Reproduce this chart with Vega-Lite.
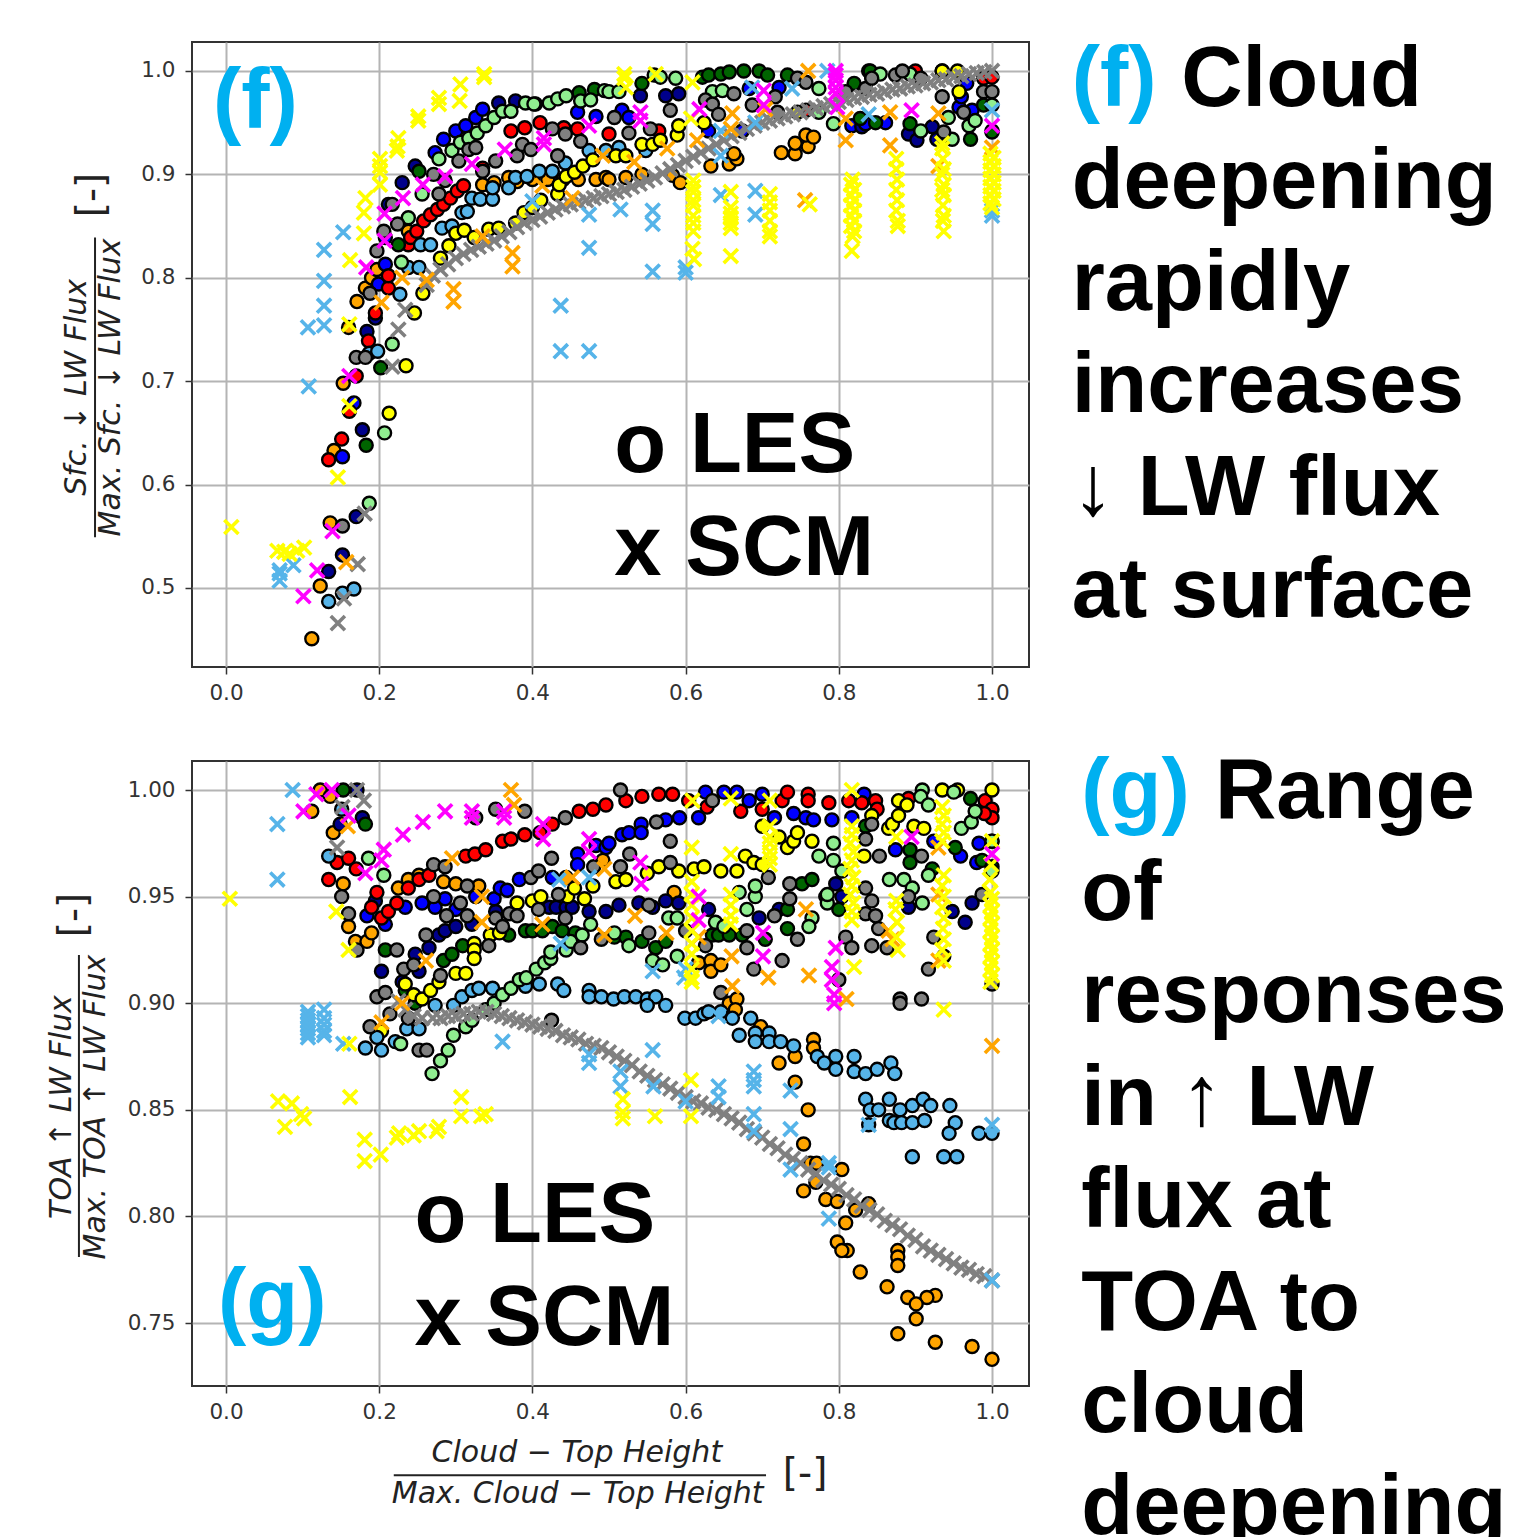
{"$schema":"https://vega.github.io/schema/vega-lite/v6.json","bounds":"flush","spacing":94,"padding":{"left":46,"top":37,"right":2,"bottom":2},"background":"white","config":{"view":{"stroke":"#333333","strokeWidth":2},"axis":{"grid":true,"gridColor":"#b4b4b4","gridWidth":2,"domain":false,"tickColor":"#333333","tickWidth":1.5,"tickSize":7,"labelFont":"DejaVu Sans","labelFontSize":21.5,"labelColor":"#333333","title":null}},
"datasets":{
"fLES":[
{"x":0.112,"y":0.451,"s":"orange"},{"x":0.123,"y":0.502,"s":"orange"},{"x":0.136,"y":0.563,"s":"orange"},{"x":0.141,"y":0.633,"s":"orange"},{"x":0.153,"y":0.698,"s":"orange"},{"x":0.16,"y":0.752,"s":"orange"},{"x":0.171,"y":0.777,"s":"orange"},{"x":0.182,"y":0.79,"s":"orange"},{"x":0.19,"y":0.8,"s":"orange"},{"x":0.197,"y":0.808,"s":"orange"},{"x":0.238,"y":0.845,"s":"orange"},{"x":0.335,"y":0.89,"s":"orange"},{"x":0.35,"y":0.892,"s":"orange"},{"x":0.369,"y":0.897,"s":"orange"},{"x":0.38,"y":0.893,"s":"orange"},{"x":0.4,"y":0.895,"s":"orange"},{"x":0.42,"y":0.895,"s":"orange"},{"x":0.44,"y":0.895,"s":"orange"},{"x":0.46,"y":0.895,"s":"orange"},{"x":0.483,"y":0.895,"s":"orange"},{"x":0.496,"y":0.897,"s":"orange"},{"x":0.5,"y":0.895,"s":"orange"},{"x":0.522,"y":0.897,"s":"orange"},{"x":0.543,"y":0.9,"s":"orange"},{"x":0.583,"y":0.899,"s":"orange"},{"x":0.593,"y":0.892,"s":"orange"},{"x":0.633,"y":0.908,"s":"orange"},{"x":0.657,"y":0.91,"s":"orange"},{"x":0.667,"y":0.915,"s":"orange"},{"x":0.663,"y":0.92,"s":"orange"},{"x":0.725,"y":0.921,"s":"orange"},{"x":0.743,"y":0.92,"s":"orange"},{"x":0.76,"y":0.927,"s":"orange"},{"x":0.743,"y":0.93,"s":"orange"},{"x":0.757,"y":0.938,"s":"orange"},{"x":0.767,"y":0.936,"s":"orange"},
{"x":0.134,"y":0.516,"s":"navy"},{"x":0.152,"y":0.532,"s":"navy"},{"x":0.17,"y":0.569,"s":"navy"},{"x":0.178,"y":0.653,"s":"navy"},{"x":0.152,"y":0.627,"s":"blue"},{"x":0.167,"y":0.679,"s":"blue"},{"x":0.184,"y":0.748,"s":"navy"},{"x":0.195,"y":0.761,"s":"navy"},{"x":0.199,"y":0.794,"s":"blue"},{"x":0.208,"y":0.813,"s":"blue"},{"x":0.208,"y":0.839,"s":"blue"},{"x":0.212,"y":0.871,"s":"navy"},{"x":0.23,"y":0.892,"s":"navy"},{"x":0.247,"y":0.908,"s":"navy"},{"x":0.273,"y":0.921,"s":"blue"},{"x":0.284,"y":0.934,"s":"blue"},{"x":0.3,"y":0.942,"s":"blue"},{"x":0.313,"y":0.947,"s":"blue"},{"x":0.326,"y":0.955,"s":"blue"},{"x":0.335,"y":0.963,"s":"blue"},{"x":0.356,"y":0.969,"s":"navy"},{"x":0.378,"y":0.971,"s":"navy"},{"x":0.404,"y":0.968,"s":"navy"},{"x":0.459,"y":0.96,"s":"blue"},{"x":0.483,"y":0.956,"s":"blue"},{"x":0.517,"y":0.962,"s":"blue"},{"x":0.526,"y":0.955,"s":"blue"},{"x":0.541,"y":0.976,"s":"navy"},{"x":0.574,"y":0.976,"s":"navy"},{"x":0.591,"y":0.978,"s":"navy"},{"x":0.63,"y":0.942,"s":"blue"},{"x":0.674,"y":0.942,"s":"blue"},{"x":0.683,"y":0.983,"s":"blue"},{"x":0.722,"y":0.984,"s":"blue"},{"x":0.817,"y":0.947,"s":"blue"},{"x":0.83,"y":0.946,"s":"navy"},{"x":0.835,"y":0.949,"s":"blue"},{"x":0.861,"y":0.95,"s":"blue"},{"x":0.843,"y":0.994,"s":"navy"},{"x":0.839,"y":1.0,"s":"blue"},{"x":0.891,"y":0.939,"s":"navy"},{"x":0.902,"y":0.933,"s":"navy"},{"x":0.922,"y":0.946,"s":"navy"},{"x":0.928,"y":0.934,"s":"navy"},{"x":0.957,"y":0.965,"s":"blue"},{"x":0.96,"y":0.975,"s":"blue"},{"x":0.967,"y":0.988,"s":"blue"},{"x":0.974,"y":0.962,"s":"blue"},{"x":1.0,"y":0.942,"s":"navy"},
{"x":0.134,"y":0.624,"s":"red"},{"x":0.151,"y":0.644,"s":"red"},{"x":0.161,"y":0.671,"s":"red"},{"x":0.17,"y":0.705,"s":"red"},{"x":0.186,"y":0.739,"s":"red"},{"x":0.195,"y":0.766,"s":"red"},{"x":0.212,"y":0.79,"s":"red"},{"x":0.212,"y":0.802,"s":"red"},{"x":0.238,"y":0.832,"s":"red"},{"x":0.241,"y":0.839,"s":"red"},{"x":0.249,"y":0.845,"s":"red"},{"x":0.258,"y":0.855,"s":"red"},{"x":0.267,"y":0.861,"s":"red"},{"x":0.276,"y":0.866,"s":"red"},{"x":0.284,"y":0.871,"s":"red"},{"x":0.293,"y":0.877,"s":"red"},{"x":0.302,"y":0.884,"s":"red"},{"x":0.31,"y":0.889,"s":"red"},{"x":0.335,"y":0.906,"s":"red"},{"x":0.372,"y":0.942,"s":"red"},{"x":0.39,"y":0.945,"s":"red"},{"x":0.41,"y":0.95,"s":"red"},{"x":0.441,"y":0.945,"s":"red"},{"x":0.459,"y":0.944,"s":"red"},{"x":0.5,"y":0.939,"s":"red"},{"x":0.565,"y":0.942,"s":"red"},{"x":0.757,"y":0.962,"s":"red"},{"x":0.9,"y":1.0,"s":"red"},{"x":0.935,"y":1.0,"s":"red"},{"x":0.989,"y":0.993,"s":"red"},{"x":1.0,"y":0.994,"s":"red"},
{"x":0.183,"y":0.638,"s":"green"},{"x":0.202,"y":0.713,"s":"green"},{"x":0.225,"y":0.832,"s":"green"},{"x":0.252,"y":0.903,"s":"green"},{"x":0.461,"y":0.979,"s":"green"},{"x":0.481,"y":0.982,"s":"green"},{"x":0.543,"y":0.988,"s":"green"},{"x":0.622,"y":0.994,"s":"green"},{"x":0.63,"y":0.996,"s":"green"},{"x":0.646,"y":0.997,"s":"green"},{"x":0.657,"y":0.999,"s":"green"},{"x":0.676,"y":1.0,"s":"green"},{"x":0.696,"y":1.0,"s":"green"},{"x":0.707,"y":0.996,"s":"green"},{"x":0.733,"y":0.996,"s":"green"},{"x":0.82,"y":0.988,"s":"green"},{"x":0.828,"y":0.954,"s":"green"},{"x":0.848,"y":0.95,"s":"green"},{"x":0.841,"y":1.0,"s":"green"},{"x":0.893,"y":0.949,"s":"green"},{"x":0.972,"y":0.934,"s":"green"},{"x":0.989,"y":0.967,"s":"green"},{"x":1.0,"y":0.941,"s":"green"},
{"x":0.134,"y":0.487,"s":"sky"},{"x":0.152,"y":0.495,"s":"sky"},{"x":0.167,"y":0.499,"s":"sky"},{"x":0.187,"y":0.727,"s":"sky"},{"x":0.198,"y":0.729,"s":"sky"},{"x":0.227,"y":0.784,"s":"sky"},{"x":0.238,"y":0.81,"s":"sky"},{"x":0.252,"y":0.81,"s":"sky"},{"x":0.254,"y":0.832,"s":"sky"},{"x":0.267,"y":0.832,"s":"sky"},{"x":0.282,"y":0.848,"s":"sky"},{"x":0.295,"y":0.85,"s":"sky"},{"x":0.308,"y":0.863,"s":"sky"},{"x":0.315,"y":0.864,"s":"sky"},{"x":0.321,"y":0.877,"s":"sky"},{"x":0.332,"y":0.876,"s":"sky"},{"x":0.348,"y":0.876,"s":"sky"},{"x":0.348,"y":0.887,"s":"sky"},{"x":0.369,"y":0.887,"s":"sky"},{"x":0.378,"y":0.897,"s":"sky"},{"x":0.393,"y":0.898,"s":"sky"},{"x":0.409,"y":0.903,"s":"sky"},{"x":0.426,"y":0.903,"s":"sky"},{"x":0.443,"y":0.911,"s":"sky"},{"x":0.474,"y":0.923,"s":"sky"},{"x":0.496,"y":0.923,"s":"sky"},{"x":0.513,"y":0.926,"s":"sky"},{"x":0.548,"y":0.923,"s":"sky"},
{"x":0.187,"y":0.582,"s":"light"},{"x":0.207,"y":0.65,"s":"light"},{"x":0.217,"y":0.736,"s":"light"},{"x":0.229,"y":0.815,"s":"light"},{"x":0.238,"y":0.858,"s":"light"},{"x":0.256,"y":0.881,"s":"light"},{"x":0.278,"y":0.915,"s":"light"},{"x":0.295,"y":0.923,"s":"light"},{"x":0.306,"y":0.931,"s":"light"},{"x":0.317,"y":0.935,"s":"light"},{"x":0.328,"y":0.94,"s":"light"},{"x":0.339,"y":0.947,"s":"light"},{"x":0.35,"y":0.955,"s":"light"},{"x":0.361,"y":0.961,"s":"light"},{"x":0.372,"y":0.961,"s":"light"},{"x":0.391,"y":0.969,"s":"light"},{"x":0.402,"y":0.968,"s":"light"},{"x":0.422,"y":0.969,"s":"light"},{"x":0.433,"y":0.973,"s":"light"},{"x":0.444,"y":0.976,"s":"light"},{"x":0.463,"y":0.971,"s":"light"},{"x":0.476,"y":0.972,"s":"light"},{"x":0.494,"y":0.981,"s":"light"},{"x":0.5,"y":0.98,"s":"light"},{"x":0.513,"y":0.98,"s":"light"},{"x":0.559,"y":0.996,"s":"light"},{"x":0.567,"y":0.994,"s":"light"},{"x":0.587,"y":0.993,"s":"light"},{"x":0.635,"y":0.98,"s":"light"},{"x":0.648,"y":0.981,"s":"light"},{"x":0.774,"y":0.983,"s":"light"},{"x":0.774,"y":0.96,"s":"light"},{"x":0.793,"y":0.949,"s":"light"},{"x":0.854,"y":0.997,"s":"light"},{"x":0.893,"y":0.997,"s":"light"},{"x":0.907,"y":0.942,"s":"light"},{"x":0.943,"y":0.955,"s":"light"},{"x":0.948,"y":0.934,"s":"light"},{"x":0.97,"y":0.947,"s":"light"},{"x":0.978,"y":0.952,"s":"light"},{"x":1.0,"y":0.967,"s":"light"},
{"x":0.213,"y":0.669,"s":"yellow"},{"x":0.235,"y":0.715,"s":"yellow"},{"x":0.246,"y":0.766,"s":"yellow"},{"x":0.257,"y":0.785,"s":"yellow"},{"x":0.28,"y":0.819,"s":"yellow"},{"x":0.291,"y":0.831,"s":"yellow"},{"x":0.3,"y":0.843,"s":"yellow"},{"x":0.311,"y":0.846,"s":"yellow"},{"x":0.324,"y":0.839,"s":"yellow"},{"x":0.343,"y":0.847,"s":"yellow"},{"x":0.356,"y":0.848,"s":"yellow"},{"x":0.378,"y":0.853,"s":"yellow"},{"x":0.389,"y":0.863,"s":"yellow"},{"x":0.4,"y":0.868,"s":"yellow"},{"x":0.411,"y":0.875,"s":"yellow"},{"x":0.433,"y":0.881,"s":"yellow"},{"x":0.435,"y":0.89,"s":"yellow"},{"x":0.444,"y":0.898,"s":"yellow"},{"x":0.455,"y":0.902,"s":"yellow"},{"x":0.466,"y":0.908,"s":"yellow"},{"x":0.479,"y":0.914,"s":"yellow"},{"x":0.509,"y":0.918,"s":"yellow"},{"x":0.522,"y":0.918,"s":"yellow"},{"x":0.543,"y":0.929,"s":"yellow"},{"x":0.557,"y":0.929,"s":"yellow"},{"x":0.567,"y":0.933,"s":"yellow"},{"x":0.589,"y":0.938,"s":"yellow"},{"x":0.591,"y":0.947,"s":"yellow"},{"x":0.624,"y":0.95,"s":"yellow"},{"x":0.746,"y":0.96,"s":"yellow"},{"x":0.935,"y":1.0,"s":"yellow"},{"x":0.955,"y":1.0,"s":"yellow"},{"x":0.957,"y":0.98,"s":"yellow"},
{"x":0.152,"y":0.56,"s":"gray"},{"x":0.17,"y":0.723,"s":"gray"},{"x":0.182,"y":0.723,"s":"gray"},{"x":0.188,"y":0.785,"s":"gray"},{"x":0.197,"y":0.826,"s":"gray"},{"x":0.206,"y":0.845,"s":"gray"},{"x":0.224,"y":0.852,"s":"gray"},{"x":0.217,"y":0.871,"s":"gray"},{"x":0.271,"y":0.9,"s":"gray"},{"x":0.278,"y":0.881,"s":"gray"},{"x":0.286,"y":0.894,"s":"gray"},{"x":0.304,"y":0.913,"s":"gray"},{"x":0.317,"y":0.924,"s":"gray"},{"x":0.326,"y":0.926,"s":"gray"},{"x":0.335,"y":0.903,"s":"gray"},{"x":0.352,"y":0.913,"s":"gray"},{"x":0.38,"y":0.918,"s":"gray"},{"x":0.387,"y":0.929,"s":"gray"},{"x":0.398,"y":0.924,"s":"gray"},{"x":0.426,"y":0.944,"s":"gray"},{"x":0.443,"y":0.939,"s":"gray"},{"x":0.433,"y":0.918,"s":"gray"},{"x":0.463,"y":0.932,"s":"gray"},{"x":0.507,"y":0.955,"s":"gray"},{"x":0.526,"y":0.94,"s":"gray"},{"x":0.554,"y":0.944,"s":"gray"},{"x":0.58,"y":0.962,"s":"gray"},{"x":0.626,"y":0.972,"s":"gray"},{"x":0.635,"y":0.968,"s":"gray"},{"x":0.643,"y":0.958,"s":"gray"},{"x":0.663,"y":0.978,"s":"gray"},{"x":0.687,"y":0.967,"s":"gray"},{"x":0.717,"y":0.975,"s":"gray"},{"x":0.72,"y":0.96,"s":"gray"},{"x":0.746,"y":0.993,"s":"gray"},{"x":0.757,"y":0.989,"s":"gray"},{"x":0.809,"y":0.98,"s":"gray"},{"x":0.835,"y":0.983,"s":"gray"},{"x":0.843,"y":0.993,"s":"gray"},{"x":0.874,"y":0.996,"s":"gray"},{"x":0.883,"y":1.0,"s":"gray"},{"x":0.907,"y":0.993,"s":"gray"},{"x":0.935,"y":0.975,"s":"gray"},{"x":0.937,"y":0.941,"s":"gray"},{"x":0.963,"y":0.96,"s":"gray"},{"x":0.989,"y":0.98,"s":"gray"},{"x":1.0,"y":0.98,"s":"gray"}
],
"fSCM":[
{"x":0.146,"y":0.466,"s":"gray"},{"x":0.154,"y":0.49,"s":"gray"},{"x":0.172,"y":0.523,"s":"gray"},{"x":0.181,"y":0.572,"s":"gray"},{"x":0.217,"y":0.714,"s":"gray"},{"x":0.225,"y":0.75,"s":"gray"},{"x":0.234,"y":0.769,"s":"gray"},{"x":0.262,"y":0.793,"s":"gray"},{"x":0.27,"y":0.802,"s":"gray"},{"x":0.28,"y":0.808,"s":"gray"},{"x":0.29,"y":0.813,"s":"gray"},{"x":0.3,"y":0.819,"s":"gray"},{"x":0.31,"y":0.823,"s":"gray"},{"x":0.32,"y":0.827,"s":"gray"},{"x":0.33,"y":0.83,"s":"gray"},{"x":0.34,"y":0.833,"s":"gray"},{"x":0.35,"y":0.836,"s":"gray"},{"x":0.36,"y":0.84,"s":"gray"},{"x":0.37,"y":0.844,"s":"gray"},{"x":0.38,"y":0.849,"s":"gray"},{"x":0.39,"y":0.853,"s":"gray"},{"x":0.4,"y":0.856,"s":"gray"},{"x":0.41,"y":0.859,"s":"gray"},{"x":0.42,"y":0.863,"s":"gray"},{"x":0.43,"y":0.866,"s":"gray"},{"x":0.44,"y":0.869,"s":"gray"},{"x":0.45,"y":0.871,"s":"gray"},{"x":0.46,"y":0.873,"s":"gray"},{"x":0.47,"y":0.875,"s":"gray"},{"x":0.48,"y":0.877,"s":"gray"},{"x":0.49,"y":0.879,"s":"gray"},{"x":0.5,"y":0.881,"s":"gray"},{"x":0.51,"y":0.883,"s":"gray"},{"x":0.52,"y":0.885,"s":"gray"},{"x":0.53,"y":0.888,"s":"gray"},{"x":0.54,"y":0.891,"s":"gray"},{"x":0.55,"y":0.894,"s":"gray"},{"x":0.56,"y":0.897,"s":"gray"},{"x":0.57,"y":0.901,"s":"gray"},{"x":0.58,"y":0.905,"s":"gray"},{"x":0.59,"y":0.909,"s":"gray"},{"x":0.6,"y":0.913,"s":"gray"},{"x":0.61,"y":0.917,"s":"gray"},{"x":0.62,"y":0.921,"s":"gray"},{"x":0.63,"y":0.925,"s":"gray"},{"x":0.64,"y":0.929,"s":"gray"},{"x":0.65,"y":0.933,"s":"gray"},{"x":0.66,"y":0.937,"s":"gray"},{"x":0.67,"y":0.94,"s":"gray"},{"x":0.68,"y":0.944,"s":"gray"},{"x":0.69,"y":0.947,"s":"gray"},{"x":0.7,"y":0.95,"s":"gray"},{"x":0.71,"y":0.952,"s":"gray"},{"x":0.72,"y":0.954,"s":"gray"},{"x":0.73,"y":0.956,"s":"gray"},{"x":0.74,"y":0.958,"s":"gray"},{"x":0.75,"y":0.96,"s":"gray"},{"x":0.76,"y":0.962,"s":"gray"},{"x":0.77,"y":0.964,"s":"gray"},{"x":0.78,"y":0.966,"s":"gray"},{"x":0.79,"y":0.968,"s":"gray"},{"x":0.8,"y":0.97,"s":"gray"},{"x":0.81,"y":0.972,"s":"gray"},{"x":0.82,"y":0.974,"s":"gray"},{"x":0.83,"y":0.975,"s":"gray"},{"x":0.84,"y":0.977,"s":"gray"},{"x":0.85,"y":0.978,"s":"gray"},{"x":0.86,"y":0.98,"s":"gray"},{"x":0.87,"y":0.982,"s":"gray"},{"x":0.88,"y":0.983,"s":"gray"},{"x":0.89,"y":0.985,"s":"gray"},{"x":0.9,"y":0.986,"s":"gray"},{"x":0.91,"y":0.988,"s":"gray"},{"x":0.92,"y":0.989,"s":"gray"},{"x":0.93,"y":0.991,"s":"gray"},{"x":0.94,"y":0.992,"s":"gray"},{"x":0.95,"y":0.994,"s":"gray"},{"x":0.96,"y":0.995,"s":"gray"},{"x":0.97,"y":0.997,"s":"gray"},{"x":0.98,"y":0.998,"s":"gray"},{"x":0.99,"y":0.999,"s":"gray"},{"x":1.0,"y":1.0,"s":"gray"},
{"x":0.07,"y":0.507,"s":"sky"},{"x":0.07,"y":0.514,"s":"sky"},{"x":0.07,"y":0.517,"s":"sky"},{"x":0.088,"y":0.522,"s":"sky"},{"x":0.108,"y":0.695,"s":"sky"},{"x":0.107,"y":0.752,"s":"sky"},{"x":0.128,"y":0.754,"s":"sky"},{"x":0.128,"y":0.773,"s":"sky"},{"x":0.128,"y":0.797,"s":"sky"},{"x":0.128,"y":0.827,"s":"sky"},{"x":0.153,"y":0.844,"s":"sky"},{"x":0.4,"y":0.874,"s":"sky"},{"x":0.437,"y":0.773,"s":"sky"},{"x":0.437,"y":0.729,"s":"sky"},{"x":0.474,"y":0.729,"s":"sky"},{"x":0.474,"y":0.829,"s":"sky"},{"x":0.474,"y":0.861,"s":"sky"},{"x":0.515,"y":0.866,"s":"sky"},{"x":0.557,"y":0.865,"s":"sky"},{"x":0.557,"y":0.852,"s":"sky"},{"x":0.557,"y":0.806,"s":"sky"},{"x":0.6,"y":0.81,"s":"sky"},{"x":0.6,"y":0.805,"s":"sky"},{"x":0.646,"y":0.88,"s":"sky"},{"x":0.691,"y":0.884,"s":"sky"},{"x":0.691,"y":0.861,"s":"sky"},{"x":0.646,"y":0.918,"s":"sky"},{"x":0.646,"y":0.942,"s":"sky"},{"x":0.691,"y":0.95,"s":"sky"},{"x":0.687,"y":0.984,"s":"sky"},{"x":0.739,"y":0.983,"s":"sky"},{"x":0.785,"y":1.0,"s":"sky"},{"x":0.839,"y":0.958,"s":"sky"},{"x":1.0,"y":0.962,"s":"sky"},{"x":1.0,"y":0.865,"s":"sky"},{"x":1.0,"y":0.86,"s":"sky"},
{"x":0.157,"y":0.525,"s":"orange"},{"x":0.203,"y":0.776,"s":"orange"},{"x":0.23,"y":0.8,"s":"orange"},{"x":0.262,"y":0.798,"s":"orange"},{"x":0.297,"y":0.789,"s":"orange"},{"x":0.297,"y":0.777,"s":"orange"},{"x":0.335,"y":0.84,"s":"orange"},{"x":0.374,"y":0.824,"s":"orange"},{"x":0.374,"y":0.811,"s":"orange"},{"x":0.413,"y":0.889,"s":"orange"},{"x":0.452,"y":0.877,"s":"orange"},{"x":0.492,"y":0.918,"s":"orange"},{"x":0.533,"y":0.912,"s":"orange"},{"x":0.576,"y":0.925,"s":"orange"},{"x":0.615,"y":0.933,"s":"orange"},{"x":0.659,"y":0.944,"s":"orange"},{"x":0.661,"y":0.959,"s":"orange"},{"x":0.704,"y":0.963,"s":"orange"},{"x":0.756,"y":0.875,"s":"orange"},{"x":0.76,"y":1.0,"s":"orange"},{"x":0.809,"y":0.954,"s":"orange"},{"x":0.809,"y":0.933,"s":"orange"},{"x":0.867,"y":0.96,"s":"orange"},{"x":0.867,"y":0.928,"s":"orange"},{"x":0.93,"y":0.959,"s":"orange"},{"x":0.93,"y":0.908,"s":"orange"},{"x":1.0,"y":0.926,"s":"orange"},
{"x":0.007,"y":0.559,"s":"yellow"},{"x":0.067,"y":0.536,"s":"yellow"},{"x":0.076,"y":0.535,"s":"yellow"},{"x":0.083,"y":0.533,"s":"yellow"},{"x":0.093,"y":0.536,"s":"yellow"},{"x":0.102,"y":0.539,"s":"yellow"},{"x":0.146,"y":0.607,"s":"yellow"},{"x":0.161,"y":0.676,"s":"yellow"},{"x":0.161,"y":0.755,"s":"yellow"},{"x":0.162,"y":0.817,"s":"yellow"},{"x":0.18,"y":0.843,"s":"yellow"},{"x":0.18,"y":0.863,"s":"yellow"},{"x":0.182,"y":0.877,"s":"yellow"},{"x":0.201,"y":0.89,"s":"yellow"},{"x":0.201,"y":0.902,"s":"yellow"},{"x":0.201,"y":0.908,"s":"yellow"},{"x":0.201,"y":0.915,"s":"yellow"},{"x":0.223,"y":0.923,"s":"yellow"},{"x":0.224,"y":0.927,"s":"yellow"},{"x":0.225,"y":0.935,"s":"yellow"},{"x":0.251,"y":0.952,"s":"yellow"},{"x":0.251,"y":0.956,"s":"yellow"},{"x":0.278,"y":0.968,"s":"yellow"},{"x":0.278,"y":0.974,"s":"yellow"},{"x":0.305,"y":0.971,"s":"yellow"},{"x":0.306,"y":0.987,"s":"yellow"},{"x":0.337,"y":0.994,"s":"yellow"},{"x":0.337,"y":0.997,"s":"yellow"},{"x":0.52,"y":0.997,"s":"yellow"},{"x":0.52,"y":0.993,"s":"yellow"},{"x":0.522,"y":0.984,"s":"yellow"},{"x":0.561,"y":0.997,"s":"yellow"},{"x":0.609,"y":0.989,"s":"yellow"},{"x":0.607,"y":0.954,"s":"yellow"},
{"x":0.61,"y":0.894,"s":"yellow"},{"x":0.61,"y":0.888,"s":"yellow"},{"x":0.61,"y":0.883,"s":"yellow"},{"x":0.61,"y":0.875,"s":"yellow"},{"x":0.61,"y":0.87,"s":"yellow"},{"x":0.61,"y":0.86,"s":"yellow"},{"x":0.61,"y":0.853,"s":"yellow"},{"x":0.61,"y":0.845,"s":"yellow"},{"x":0.609,"y":0.828,"s":"yellow"},{"x":0.611,"y":0.818,"s":"yellow"},{"x":0.659,"y":0.883,"s":"yellow"},{"x":0.659,"y":0.868,"s":"yellow"},{"x":0.659,"y":0.862,"s":"yellow"},{"x":0.659,"y":0.858,"s":"yellow"},{"x":0.659,"y":0.853,"s":"yellow"},{"x":0.659,"y":0.848,"s":"yellow"},{"x":0.659,"y":0.821,"s":"yellow"},{"x":0.71,"y":0.881,"s":"yellow"},{"x":0.71,"y":0.873,"s":"yellow"},{"x":0.71,"y":0.865,"s":"yellow"},{"x":0.71,"y":0.855,"s":"yellow"},{"x":0.71,"y":0.845,"s":"yellow"},{"x":0.71,"y":0.84,"s":"yellow"},{"x":0.762,"y":0.871,"s":"yellow"},
{"x":0.818,"y":0.895,"s":"yellow"},{"x":0.816,"y":0.89,"s":"yellow"},{"x":0.82,"y":0.885,"s":"yellow"},{"x":0.816,"y":0.88,"s":"yellow"},{"x":0.82,"y":0.875,"s":"yellow"},{"x":0.816,"y":0.87,"s":"yellow"},{"x":0.82,"y":0.865,"s":"yellow"},{"x":0.816,"y":0.86,"s":"yellow"},{"x":0.82,"y":0.855,"s":"yellow"},{"x":0.816,"y":0.85,"s":"yellow"},{"x":0.82,"y":0.845,"s":"yellow"},{"x":0.818,"y":0.84,"s":"yellow"},{"x":0.817,"y":0.826,"s":"yellow"},
{"x":0.875,"y":0.915,"s":"yellow"},{"x":0.875,"y":0.905,"s":"yellow"},{"x":0.876,"y":0.895,"s":"yellow"},{"x":0.875,"y":0.885,"s":"yellow"},{"x":0.876,"y":0.875,"s":"yellow"},{"x":0.875,"y":0.865,"s":"yellow"},{"x":0.877,"y":0.855,"s":"yellow"},{"x":0.877,"y":0.85,"s":"yellow"},
{"x":0.935,"y":0.93,"s":"yellow"},{"x":0.935,"y":0.925,"s":"yellow"},{"x":0.936,"y":0.915,"s":"yellow"},{"x":0.937,"y":0.905,"s":"yellow"},{"x":0.935,"y":0.9,"s":"yellow"},{"x":0.937,"y":0.89,"s":"yellow"},{"x":0.935,"y":0.885,"s":"yellow"},{"x":0.937,"y":0.88,"s":"yellow"},{"x":0.936,"y":0.87,"s":"yellow"},{"x":0.937,"y":0.86,"s":"yellow"},{"x":0.936,"y":0.855,"s":"yellow"},{"x":0.937,"y":0.845,"s":"yellow"},
{"x":0.998,"y":0.92,"s":"yellow"},{"x":1.002,"y":0.916,"s":"yellow"},{"x":0.998,"y":0.912,"s":"yellow"},{"x":1.002,"y":0.908,"s":"yellow"},{"x":0.998,"y":0.904,"s":"yellow"},{"x":1.002,"y":0.9,"s":"yellow"},{"x":0.998,"y":0.896,"s":"yellow"},{"x":1.002,"y":0.892,"s":"yellow"},{"x":0.998,"y":0.888,"s":"yellow"},{"x":1.002,"y":0.884,"s":"yellow"},{"x":0.998,"y":0.88,"s":"yellow"},{"x":1.002,"y":0.876,"s":"yellow"},{"x":0.998,"y":0.872,"s":"yellow"},{"x":1.0,"y":0.868,"s":"yellow"},
{"x":0.101,"y":0.492,"s":"magenta"},{"x":0.119,"y":0.517,"s":"magenta"},{"x":0.139,"y":0.555,"s":"magenta"},{"x":0.161,"y":0.705,"s":"magenta"},{"x":0.183,"y":0.81,"s":"magenta"},{"x":0.207,"y":0.836,"s":"magenta"},{"x":0.207,"y":0.862,"s":"magenta"},{"x":0.231,"y":0.877,"s":"magenta"},{"x":0.257,"y":0.89,"s":"magenta"},{"x":0.286,"y":0.898,"s":"magenta"},{"x":0.321,"y":0.91,"s":"magenta"},{"x":0.364,"y":0.924,"s":"magenta"},{"x":0.415,"y":0.935,"s":"magenta"},{"x":0.415,"y":0.929,"s":"magenta"},{"x":0.474,"y":0.947,"s":"magenta"},{"x":0.541,"y":0.96,"s":"magenta"},{"x":0.541,"y":0.952,"s":"magenta"},{"x":0.618,"y":0.963,"s":"magenta"},{"x":0.702,"y":0.981,"s":"magenta"},{"x":0.702,"y":0.967,"s":"magenta"},{"x":0.796,"y":1.0,"s":"magenta"},{"x":0.796,"y":0.996,"s":"magenta"},{"x":0.796,"y":0.991,"s":"magenta"},{"x":0.796,"y":0.984,"s":"magenta"},{"x":0.796,"y":0.978,"s":"magenta"},{"x":0.798,"y":0.965,"s":"magenta"},{"x":0.895,"y":0.962,"s":"magenta"},{"x":1.0,"y":0.947,"s":"magenta"}
],
"gLES":[
{"x":0.123,"y":1.0,"s":"orange"},{"x":0.136,"y":0.997,"s":"orange"},{"x":0.112,"y":0.99,"s":"orange"},{"x":0.14,"y":0.98,"s":"orange"},{"x":0.153,"y":0.956,"s":"orange"},{"x":0.16,"y":0.936,"s":"orange"},{"x":0.169,"y":0.929,"s":"orange"},{"x":0.184,"y":0.929,"s":"orange"},{"x":0.19,"y":0.933,"s":"orange"},{"x":0.225,"y":0.954,"s":"orange"},{"x":0.238,"y":0.958,"s":"orange"},{"x":0.252,"y":0.96,"s":"orange"},{"x":0.284,"y":0.957,"s":"orange"},{"x":0.3,"y":0.956,"s":"orange"},{"x":0.33,"y":0.955,"s":"orange"},{"x":0.444,"y":0.959,"s":"orange"},{"x":0.492,"y":0.967,"s":"orange"},{"x":0.585,"y":0.952,"s":"orange"},{"x":0.617,"y":0.919,"s":"orange"},{"x":0.633,"y":0.92,"s":"orange"},{"x":0.633,"y":0.915,"s":"orange"},{"x":0.646,"y":0.918,"s":"orange"},{"x":0.657,"y":0.9,"s":"orange"},{"x":0.667,"y":0.902,"s":"orange"},{"x":0.665,"y":0.897,"s":"orange"},{"x":0.698,"y":0.889,"s":"orange"},{"x":0.722,"y":0.872,"s":"orange"},{"x":0.743,"y":0.875,"s":"orange"},{"x":0.767,"y":0.883,"s":"orange"},{"x":0.767,"y":0.879,"s":"orange"},{"x":0.743,"y":0.863,"s":"orange"},{"x":0.76,"y":0.85,"s":"orange"},{"x":0.754,"y":0.834,"s":"orange"},{"x":0.763,"y":0.825,"s":"orange"},{"x":0.771,"y":0.825,"s":"orange"},{"x":0.77,"y":0.816,"s":"orange"},{"x":0.804,"y":0.822,"s":"orange"},{"x":0.754,"y":0.812,"s":"orange"},{"x":0.783,"y":0.808,"s":"orange"},{"x":0.798,"y":0.807,"s":"orange"},{"x":0.822,"y":0.803,"s":"orange"},{"x":0.839,"y":0.806,"s":"orange"},{"x":0.809,"y":0.797,"s":"orange"},{"x":0.798,"y":0.788,"s":"orange"},{"x":0.811,"y":0.784,"s":"orange"},{"x":0.804,"y":0.784,"s":"orange"},{"x":0.828,"y":0.774,"s":"orange"},{"x":0.863,"y":0.767,"s":"orange"},{"x":0.877,"y":0.784,"s":"orange"},{"x":0.877,"y":0.781,"s":"orange"},{"x":0.877,"y":0.777,"s":"orange"},{"x":0.89,"y":0.762,"s":"orange"},{"x":0.926,"y":0.763,"s":"orange"},{"x":0.915,"y":0.762,"s":"orange"},{"x":0.901,"y":0.759,"s":"orange"},{"x":0.901,"y":0.752,"s":"orange"},{"x":0.877,"y":0.745,"s":"orange"},{"x":0.926,"y":0.741,"s":"orange"},{"x":0.974,"y":0.739,"s":"orange"},{"x":1.0,"y":0.733,"s":"orange"},
{"x":0.171,"y":1.0,"s":"navy"},{"x":0.178,"y":0.987,"s":"navy"},{"x":0.149,"y":0.984,"s":"navy"},{"x":0.195,"y":0.948,"s":"navy"},{"x":0.203,"y":0.915,"s":"navy"},{"x":0.23,"y":0.91,"s":"navy"},{"x":0.252,"y":0.915,"s":"navy"},{"x":0.247,"y":0.923,"s":"navy"},{"x":0.265,"y":0.926,"s":"navy"},{"x":0.278,"y":0.932,"s":"navy"},{"x":0.286,"y":0.934,"s":"navy"},{"x":0.3,"y":0.936,"s":"navy"},{"x":0.321,"y":0.937,"s":"navy"},{"x":0.352,"y":0.943,"s":"navy"},{"x":0.422,"y":0.945,"s":"navy"},{"x":0.431,"y":0.945,"s":"navy"},{"x":0.444,"y":0.945,"s":"navy"},{"x":0.452,"y":0.945,"s":"navy"},{"x":0.474,"y":0.943,"s":"navy"},{"x":0.496,"y":0.943,"s":"navy"},{"x":0.513,"y":0.946,"s":"navy"},{"x":0.539,"y":0.947,"s":"navy"},{"x":0.557,"y":0.945,"s":"navy"},{"x":0.574,"y":0.948,"s":"navy"},{"x":0.591,"y":0.947,"s":"navy"},{"x":0.63,"y":0.944,"s":"navy"},{"x":0.696,"y":0.94,"s":"navy"},{"x":0.722,"y":0.944,"s":"navy"},{"x":0.796,"y":0.956,"s":"navy"},{"x":0.804,"y":0.95,"s":"navy"},{"x":0.891,"y":0.945,"s":"navy"},{"x":0.948,"y":0.943,"s":"navy"},{"x":0.965,"y":0.938,"s":"navy"},{"x":0.974,"y":0.947,"s":"navy"},
{"x":0.208,"y":0.937,"s":"blue"},{"x":0.184,"y":0.941,"s":"blue"},{"x":0.234,"y":0.945,"s":"blue"},{"x":0.256,"y":0.947,"s":"blue"},{"x":0.273,"y":0.945,"s":"blue"},{"x":0.286,"y":0.949,"s":"blue"},{"x":0.3,"y":0.944,"s":"blue"},{"x":0.326,"y":0.95,"s":"blue"},{"x":0.35,"y":0.949,"s":"blue"},{"x":0.358,"y":0.954,"s":"blue"},{"x":0.367,"y":0.953,"s":"blue"},{"x":0.383,"y":0.958,"s":"blue"},{"x":0.426,"y":0.959,"s":"blue"},{"x":0.459,"y":0.97,"s":"blue"},{"x":0.459,"y":0.965,"s":"blue"},{"x":0.483,"y":0.974,"s":"blue"},{"x":0.496,"y":0.973,"s":"blue"},{"x":0.5,"y":0.975,"s":"blue"},{"x":0.517,"y":0.979,"s":"blue"},{"x":0.526,"y":0.98,"s":"blue"},{"x":0.542,"y":0.984,"s":"blue"},{"x":0.542,"y":0.98,"s":"blue"},{"x":0.574,"y":0.986,"s":"blue"},{"x":0.592,"y":0.987,"s":"blue"},{"x":0.617,"y":0.987,"s":"blue"},{"x":0.626,"y":0.999,"s":"blue"},{"x":0.65,"y":0.999,"s":"blue"},{"x":0.667,"y":0.999,"s":"blue"},{"x":0.683,"y":0.995,"s":"blue"},{"x":0.7,"y":0.998,"s":"blue"},{"x":0.716,"y":0.987,"s":"blue"},{"x":0.741,"y":0.989,"s":"blue"},{"x":0.757,"y":0.987,"s":"blue"},{"x":0.767,"y":0.986,"s":"blue"},{"x":0.791,"y":0.986,"s":"blue"},{"x":0.817,"y":0.987,"s":"blue"},{"x":0.833,"y":0.998,"s":"blue"},{"x":0.874,"y":0.972,"s":"blue"},{"x":0.924,"y":0.976,"s":"blue"},{"x":0.959,"y":0.969,"s":"blue"},{"x":0.98,"y":0.966,"s":"blue"},{"x":0.983,"y":0.975,"s":"blue"},
{"x":0.134,"y":0.958,"s":"red"},{"x":0.145,"y":0.966,"s":"red"},{"x":0.16,"y":0.968,"s":"red"},{"x":0.17,"y":0.963,"s":"red"},{"x":0.197,"y":0.952,"s":"red"},{"x":0.19,"y":0.945,"s":"red"},{"x":0.203,"y":0.94,"s":"red"},{"x":0.212,"y":0.943,"s":"red"},{"x":0.223,"y":0.947,"s":"red"},{"x":0.238,"y":0.954,"s":"red"},{"x":0.252,"y":0.958,"s":"red"},{"x":0.265,"y":0.96,"s":"red"},{"x":0.313,"y":0.969,"s":"red"},{"x":0.325,"y":0.97,"s":"red"},{"x":0.339,"y":0.972,"s":"red"},{"x":0.361,"y":0.976,"s":"red"},{"x":0.372,"y":0.977,"s":"red"},{"x":0.39,"y":0.979,"s":"red"},{"x":0.41,"y":0.98,"s":"red"},{"x":0.426,"y":0.984,"s":"red"},{"x":0.461,"y":0.99,"s":"red"},{"x":0.479,"y":0.991,"s":"red"},{"x":0.496,"y":0.993,"s":"red"},{"x":0.522,"y":0.995,"s":"red"},{"x":0.543,"y":0.997,"s":"red"},{"x":0.565,"y":0.998,"s":"red"},{"x":0.583,"y":0.998,"s":"red"},{"x":0.604,"y":0.995,"s":"red"},{"x":0.628,"y":0.992,"s":"red"},{"x":0.672,"y":0.99,"s":"red"},{"x":0.7,"y":0.991,"s":"red"},{"x":0.726,"y":0.995,"s":"red"},{"x":0.733,"y":0.999,"s":"red"},{"x":0.76,"y":0.998,"s":"red"},{"x":0.76,"y":0.995,"s":"red"},{"x":0.787,"y":0.994,"s":"red"},{"x":0.813,"y":0.995,"s":"red"},{"x":0.83,"y":0.994,"s":"red"},{"x":0.848,"y":0.995,"s":"red"},{"x":0.85,"y":0.991,"s":"red"},{"x":0.891,"y":0.996,"s":"red"},{"x":0.991,"y":0.995,"s":"red"},{"x":1.0,"y":0.991,"s":"red"},{"x":1.0,"y":0.987,"s":"red"},{"x":0.99,"y":0.989,"s":"red"},
{"x":0.153,"y":1.0,"s":"green"},{"x":0.182,"y":0.984,"s":"green"},{"x":0.208,"y":0.925,"s":"green"},{"x":0.234,"y":0.906,"s":"green"},{"x":0.247,"y":0.9,"s":"green"},{"x":0.284,"y":0.92,"s":"green"},{"x":0.295,"y":0.923,"s":"green"},{"x":0.309,"y":0.927,"s":"green"},{"x":0.369,"y":0.932,"s":"green"},{"x":0.391,"y":0.934,"s":"green"},{"x":0.4,"y":0.934,"s":"green"},{"x":0.413,"y":0.934,"s":"green"},{"x":0.426,"y":0.936,"s":"green"},{"x":0.439,"y":0.934,"s":"green"},{"x":0.456,"y":0.933,"s":"green"},{"x":0.507,"y":0.931,"s":"green"},{"x":0.522,"y":0.931,"s":"green"},{"x":0.543,"y":0.929,"s":"green"},{"x":0.561,"y":0.926,"s":"green"},{"x":0.574,"y":0.929,"s":"green"},{"x":0.635,"y":0.932,"s":"green"},{"x":0.643,"y":0.932,"s":"green"},{"x":0.657,"y":0.932,"s":"green"},{"x":0.674,"y":0.932,"s":"green"},{"x":0.704,"y":0.93,"s":"green"},{"x":0.733,"y":0.944,"s":"green"},{"x":0.733,"y":0.935,"s":"green"},{"x":0.752,"y":0.956,"s":"green"},{"x":0.765,"y":0.958,"s":"green"},{"x":0.783,"y":0.95,"s":"green"},{"x":0.8,"y":0.944,"s":"green"},{"x":0.835,"y":0.983,"s":"green"},{"x":0.893,"y":0.972,"s":"green"},{"x":0.893,"y":0.966,"s":"green"},{"x":0.922,"y":0.963,"s":"green"},{"x":0.952,"y":0.973,"s":"green"},{"x":0.972,"y":0.996,"s":"green"},{"x":0.987,"y":0.967,"s":"green"},{"x":1.0,"y":0.964,"s":"green"},
{"x":0.234,"y":0.909,"s":"yellow"},{"x":0.245,"y":0.904,"s":"yellow"},{"x":0.256,"y":0.902,"s":"yellow"},{"x":0.267,"y":0.906,"s":"yellow"},{"x":0.278,"y":0.91,"s":"yellow"},{"x":0.3,"y":0.914,"s":"yellow"},{"x":0.313,"y":0.914,"s":"yellow"},{"x":0.324,"y":0.928,"s":"yellow"},{"x":0.324,"y":0.925,"s":"yellow"},{"x":0.324,"y":0.921,"s":"yellow"},{"x":0.203,"y":0.887,"s":"yellow"},{"x":0.345,"y":0.932,"s":"yellow"},{"x":0.357,"y":0.933,"s":"yellow"},{"x":0.38,"y":0.947,"s":"yellow"},{"x":0.4,"y":0.948,"s":"yellow"},{"x":0.411,"y":0.95,"s":"yellow"},{"x":0.446,"y":0.95,"s":"yellow"},{"x":0.455,"y":0.954,"s":"yellow"},{"x":0.468,"y":0.949,"s":"yellow"},{"x":0.479,"y":0.955,"s":"yellow"},{"x":0.509,"y":0.957,"s":"yellow"},{"x":0.522,"y":0.958,"s":"yellow"},{"x":0.55,"y":0.961,"s":"yellow"},{"x":0.565,"y":0.964,"s":"yellow"},{"x":0.591,"y":0.962,"s":"yellow"},{"x":0.611,"y":0.963,"s":"yellow"},{"x":0.624,"y":0.964,"s":"yellow"},{"x":0.646,"y":0.962,"s":"yellow"},{"x":0.667,"y":0.962,"s":"yellow"},{"x":0.678,"y":0.969,"s":"yellow"},{"x":0.689,"y":0.966,"s":"yellow"},{"x":0.7,"y":0.965,"s":"yellow"},{"x":0.7,"y":0.983,"s":"yellow"},{"x":0.722,"y":0.978,"s":"yellow"},{"x":0.733,"y":0.973,"s":"yellow"},{"x":0.741,"y":0.976,"s":"yellow"},{"x":0.746,"y":0.98,"s":"yellow"},{"x":0.765,"y":0.976,"s":"yellow"},{"x":0.833,"y":0.969,"s":"yellow"},{"x":0.843,"y":0.988,"s":"yellow"},{"x":0.865,"y":0.982,"s":"yellow"},{"x":0.87,"y":0.984,"s":"yellow"},{"x":0.878,"y":0.995,"s":"yellow"},{"x":0.878,"y":0.988,"s":"yellow"},{"x":0.889,"y":0.993,"s":"yellow"},{"x":0.898,"y":0.983,"s":"yellow"},{"x":0.911,"y":0.982,"s":"yellow"},{"x":0.935,"y":1.0,"s":"yellow"},{"x":0.955,"y":1.0,"s":"yellow"},{"x":1.0,"y":1.0,"s":"yellow"},{"x":1.0,"y":0.976,"s":"yellow"},
{"x":0.134,"y":0.969,"s":"sky"},{"x":0.151,"y":0.991,"s":"sky"},{"x":0.182,"y":0.879,"s":"sky"},{"x":0.197,"y":0.884,"s":"sky"},{"x":0.203,"y":0.878,"s":"sky"},{"x":0.221,"y":0.882,"s":"sky"},{"x":0.236,"y":0.888,"s":"sky"},{"x":0.252,"y":0.888,"s":"sky"},{"x":0.273,"y":0.899,"s":"sky"},{"x":0.297,"y":0.899,"s":"sky"},{"x":0.308,"y":0.903,"s":"sky"},{"x":0.321,"y":0.906,"s":"sky"},{"x":0.33,"y":0.907,"s":"sky"},{"x":0.348,"y":0.907,"s":"sky"},{"x":0.391,"y":0.908,"s":"sky"},{"x":0.409,"y":0.909,"s":"sky"},{"x":0.433,"y":0.909,"s":"sky"},{"x":0.441,"y":0.906,"s":"sky"},{"x":0.474,"y":0.906,"s":"sky"},{"x":0.474,"y":0.903,"s":"sky"},{"x":0.49,"y":0.903,"s":"sky"},{"x":0.506,"y":0.902,"s":"sky"},{"x":0.52,"y":0.903,"s":"sky"},{"x":0.535,"y":0.903,"s":"sky"},{"x":0.55,"y":0.902,"s":"sky"},{"x":0.561,"y":0.903,"s":"sky"},{"x":0.55,"y":0.899,"s":"sky"},{"x":0.574,"y":0.899,"s":"sky"},{"x":0.599,"y":0.893,"s":"sky"},{"x":0.613,"y":0.893,"s":"sky"},{"x":0.624,"y":0.895,"s":"sky"},{"x":0.63,"y":0.896,"s":"sky"},{"x":0.646,"y":0.896,"s":"sky"},{"x":0.661,"y":0.893,"s":"sky"},{"x":0.685,"y":0.893,"s":"sky"},{"x":0.67,"y":0.885,"s":"sky"},{"x":0.691,"y":0.886,"s":"sky"},{"x":0.709,"y":0.886,"s":"sky"},{"x":0.691,"y":0.882,"s":"sky"},{"x":0.709,"y":0.882,"s":"sky"},{"x":0.724,"y":0.882,"s":"sky"},{"x":0.741,"y":0.88,"s":"sky"},{"x":0.772,"y":0.875,"s":"sky"},{"x":0.796,"y":0.875,"s":"sky"},{"x":0.781,"y":0.872,"s":"sky"},{"x":0.796,"y":0.869,"s":"sky"},{"x":0.82,"y":0.875,"s":"sky"},{"x":0.82,"y":0.868,"s":"sky"},{"x":0.835,"y":0.867,"s":"sky"},{"x":0.85,"y":0.869,"s":"sky"},{"x":0.868,"y":0.872,"s":"sky"},{"x":0.873,"y":0.867,"s":"sky"},{"x":0.835,"y":0.855,"s":"sky"},{"x":0.841,"y":0.85,"s":"sky"},{"x":0.852,"y":0.85,"s":"sky"},{"x":0.866,"y":0.855,"s":"sky"},{"x":0.88,"y":0.85,"s":"sky"},{"x":0.896,"y":0.852,"s":"sky"},{"x":0.91,"y":0.855,"s":"sky"},{"x":0.92,"y":0.852,"s":"sky"},{"x":0.945,"y":0.852,"s":"sky"},{"x":0.839,"y":0.843,"s":"sky"},{"x":0.866,"y":0.845,"s":"sky"},{"x":0.872,"y":0.844,"s":"sky"},{"x":0.882,"y":0.844,"s":"sky"},{"x":0.896,"y":0.844,"s":"sky"},{"x":0.912,"y":0.845,"s":"sky"},{"x":0.952,"y":0.844,"s":"sky"},{"x":0.944,"y":0.839,"s":"sky"},{"x":0.983,"y":0.839,"s":"sky"},{"x":1.0,"y":0.839,"s":"sky"},{"x":0.896,"y":0.828,"s":"sky"},{"x":0.937,"y":0.828,"s":"sky"},{"x":0.954,"y":0.828,"s":"sky"},
{"x":0.186,"y":0.968,"s":"light"},{"x":0.206,"y":0.96,"s":"light"},{"x":0.228,"y":0.881,"s":"light"},{"x":0.269,"y":0.867,"s":"light"},{"x":0.28,"y":0.873,"s":"light"},{"x":0.29,"y":0.878,"s":"light"},{"x":0.297,"y":0.885,"s":"light"},{"x":0.313,"y":0.889,"s":"light"},{"x":0.321,"y":0.892,"s":"light"},{"x":0.339,"y":0.897,"s":"light"},{"x":0.35,"y":0.9,"s":"light"},{"x":0.361,"y":0.904,"s":"light"},{"x":0.372,"y":0.907,"s":"light"},{"x":0.383,"y":0.911,"s":"light"},{"x":0.392,"y":0.912,"s":"light"},{"x":0.405,"y":0.916,"s":"light"},{"x":0.416,"y":0.919,"s":"light"},{"x":0.424,"y":0.921,"s":"light"},{"x":0.424,"y":0.924,"s":"light"},{"x":0.444,"y":0.925,"s":"light"},{"x":0.45,"y":0.929,"s":"light"},{"x":0.465,"y":0.932,"s":"light"},{"x":0.476,"y":0.937,"s":"light"},{"x":0.507,"y":0.933,"s":"light"},{"x":0.526,"y":0.927,"s":"light"},{"x":0.557,"y":0.92,"s":"light"},{"x":0.57,"y":0.918,"s":"light"},{"x":0.589,"y":0.922,"s":"light"},{"x":0.578,"y":0.94,"s":"light"},{"x":0.589,"y":0.94,"s":"light"},{"x":0.639,"y":0.938,"s":"light"},{"x":0.65,"y":0.936,"s":"light"},{"x":0.67,"y":0.952,"s":"light"},{"x":0.68,"y":0.944,"s":"light"},{"x":0.691,"y":0.95,"s":"light"},{"x":0.691,"y":0.955,"s":"light"},{"x":0.765,"y":0.94,"s":"light"},{"x":0.761,"y":0.936,"s":"light"},{"x":0.774,"y":0.969,"s":"light"},{"x":0.793,"y":0.975,"s":"light"},{"x":0.793,"y":0.967,"s":"light"},{"x":0.804,"y":0.962,"s":"light"},{"x":0.785,"y":0.947,"s":"light"},{"x":0.785,"y":0.951,"s":"light"},{"x":0.866,"y":0.958,"s":"light"},{"x":0.885,"y":0.958,"s":"light"},{"x":0.896,"y":0.954,"s":"light"},{"x":0.909,"y":0.947,"s":"light"},{"x":0.917,"y":0.96,"s":"light"},{"x":0.909,"y":1.0,"s":"light"},{"x":0.907,"y":0.997,"s":"light"},{"x":0.917,"y":0.993,"s":"light"},{"x":0.95,"y":0.999,"s":"light"},{"x":0.96,"y":0.982,"s":"light"},{"x":0.973,"y":0.985,"s":"light"},{"x":0.978,"y":0.99,"s":"light"},{"x":1.0,"y":0.976,"s":"light"},{"x":1.0,"y":0.962,"s":"light"},
{"x":0.151,"y":0.95,"s":"gray"},{"x":0.16,"y":0.942,"s":"gray"},{"x":0.171,"y":0.925,"s":"gray"},{"x":0.197,"y":0.903,"s":"gray"},{"x":0.208,"y":0.905,"s":"gray"},{"x":0.214,"y":0.895,"s":"gray"},{"x":0.188,"y":0.889,"s":"gray"},{"x":0.252,"y":0.878,"s":"gray"},{"x":0.262,"y":0.878,"s":"gray"},{"x":0.223,"y":0.925,"s":"gray"},{"x":0.232,"y":0.916,"s":"gray"},{"x":0.245,"y":0.918,"s":"gray"},{"x":0.28,"y":0.913,"s":"gray"},{"x":0.261,"y":0.932,"s":"gray"},{"x":0.271,"y":0.965,"s":"gray"},{"x":0.286,"y":0.964,"s":"gray"},{"x":0.271,"y":0.95,"s":"gray"},{"x":0.306,"y":0.947,"s":"gray"},{"x":0.288,"y":0.941,"s":"gray"},{"x":0.315,"y":0.941,"s":"gray"},{"x":0.315,"y":0.955,"s":"gray"},{"x":0.343,"y":0.927,"s":"gray"},{"x":0.352,"y":0.94,"s":"gray"},{"x":0.361,"y":0.936,"s":"gray"},{"x":0.37,"y":0.942,"s":"gray"},{"x":0.38,"y":0.941,"s":"gray"},{"x":0.398,"y":0.959,"s":"gray"},{"x":0.408,"y":0.962,"s":"gray"},{"x":0.425,"y":0.968,"s":"gray"},{"x":0.408,"y":0.944,"s":"gray"},{"x":0.434,"y":0.951,"s":"gray"},{"x":0.443,"y":0.94,"s":"gray"},{"x":0.463,"y":0.926,"s":"gray"},{"x":0.352,"y":0.991,"s":"gray"},{"x":0.326,"y":0.987,"s":"gray"},{"x":0.39,"y":0.99,"s":"gray"},{"x":0.443,"y":0.987,"s":"gray"},{"x":0.48,"y":0.964,"s":"gray"},{"x":0.49,"y":0.93,"s":"gray"},{"x":0.238,"y":0.893,"s":"gray"},{"x":0.425,"y":0.892,"s":"gray"},{"x":0.515,"y":1.0,"s":"gray"},{"x":0.515,"y":0.964,"s":"gray"},{"x":0.527,"y":0.97,"s":"gray"},{"x":0.552,"y":0.933,"s":"gray"},{"x":0.552,"y":0.946,"s":"gray"},{"x":0.562,"y":0.985,"s":"gray"},{"x":0.58,"y":0.976,"s":"gray"},{"x":0.58,"y":0.966,"s":"gray"},{"x":0.635,"y":0.995,"s":"gray"},{"x":0.6,"y":0.934,"s":"gray"},{"x":0.626,"y":0.927,"s":"gray"},{"x":0.68,"y":0.934,"s":"gray"},{"x":0.68,"y":0.926,"s":"gray"},{"x":0.708,"y":0.959,"s":"gray"},{"x":0.716,"y":0.941,"s":"gray"},{"x":0.726,"y":0.92,"s":"gray"},{"x":0.689,"y":0.916,"s":"gray"},{"x":0.646,"y":0.905,"s":"gray"},{"x":0.736,"y":0.956,"s":"gray"},{"x":0.736,"y":0.949,"s":"gray"},{"x":0.746,"y":0.93,"s":"gray"},{"x":0.8,"y":0.911,"s":"gray"},{"x":0.809,"y":0.931,"s":"gray"},{"x":0.817,"y":0.926,"s":"gray"},{"x":0.835,"y":0.977,"s":"gray"},{"x":0.843,"y":0.984,"s":"gray"},{"x":0.853,"y":0.969,"s":"gray"},{"x":0.835,"y":0.954,"s":"gray"},{"x":0.843,"y":0.948,"s":"gray"},{"x":0.835,"y":0.942,"s":"gray"},{"x":0.848,"y":0.941,"s":"gray"},{"x":0.843,"y":0.927,"s":"gray"},{"x":0.863,"y":0.926,"s":"gray"},{"x":0.852,"y":0.935,"s":"gray"},{"x":0.891,"y":0.95,"s":"gray"},{"x":0.908,"y":0.969,"s":"gray"},{"x":0.924,"y":0.931,"s":"gray"},{"x":0.937,"y":0.922,"s":"gray"},{"x":0.917,"y":0.916,"s":"gray"},{"x":0.88,"y":0.902,"s":"gray"},{"x":0.88,"y":0.9,"s":"gray"},{"x":0.908,"y":0.902,"s":"gray"},{"x":1.0,"y":0.909,"s":"gray"},{"x":0.987,"y":0.951,"s":"gray"}
],
"gSCM":[
{"x":0.145,"y":0.973,"s":"gray"},{"x":0.152,"y":0.992,"s":"gray"},{"x":0.171,"y":1.0,"s":"gray"},{"x":0.18,"y":0.995,"s":"gray"},{"x":0.225,"y":0.901,"s":"gray"},{"x":0.234,"y":0.897,"s":"gray"},{"x":0.245,"y":0.894,"s":"gray"},{"x":0.256,"y":0.893,"s":"gray"},{"x":0.27,"y":0.893,"s":"gray"},{"x":0.28,"y":0.893,"s":"gray"},{"x":0.29,"y":0.894,"s":"gray"},{"x":0.3,"y":0.894,"s":"gray"},{"x":0.31,"y":0.895,"s":"gray"},{"x":0.32,"y":0.895,"s":"gray"},{"x":0.33,"y":0.896,"s":"gray"},{"x":0.34,"y":0.896,"s":"gray"},{"x":0.35,"y":0.895,"s":"gray"},{"x":0.36,"y":0.894,"s":"gray"},{"x":0.37,"y":0.893,"s":"gray"},{"x":0.38,"y":0.892,"s":"gray"},{"x":0.39,"y":0.891,"s":"gray"},{"x":0.4,"y":0.89,"s":"gray"},{"x":0.41,"y":0.889,"s":"gray"},{"x":0.42,"y":0.888,"s":"gray"},{"x":0.43,"y":0.887,"s":"gray"},{"x":0.44,"y":0.885,"s":"gray"},{"x":0.45,"y":0.884,"s":"gray"},{"x":0.46,"y":0.883,"s":"gray"},{"x":0.47,"y":0.881,"s":"gray"},{"x":0.48,"y":0.88,"s":"gray"},{"x":0.49,"y":0.879,"s":"gray"},{"x":0.5,"y":0.877,"s":"gray"},{"x":0.51,"y":0.875,"s":"gray"},{"x":0.52,"y":0.873,"s":"gray"},{"x":0.53,"y":0.871,"s":"gray"},{"x":0.54,"y":0.868,"s":"gray"},{"x":0.55,"y":0.866,"s":"gray"},{"x":0.56,"y":0.864,"s":"gray"},{"x":0.57,"y":0.862,"s":"gray"},{"x":0.58,"y":0.86,"s":"gray"},{"x":0.59,"y":0.858,"s":"gray"},{"x":0.6,"y":0.856,"s":"gray"},{"x":0.61,"y":0.854,"s":"gray"},{"x":0.62,"y":0.853,"s":"gray"},{"x":0.63,"y":0.851,"s":"gray"},{"x":0.64,"y":0.85,"s":"gray"},{"x":0.65,"y":0.848,"s":"gray"},{"x":0.66,"y":0.846,"s":"gray"},{"x":0.67,"y":0.844,"s":"gray"},{"x":0.68,"y":0.841,"s":"gray"},{"x":0.69,"y":0.839,"s":"gray"},{"x":0.7,"y":0.837,"s":"gray"},{"x":0.71,"y":0.834,"s":"gray"},{"x":0.72,"y":0.832,"s":"gray"},{"x":0.73,"y":0.829,"s":"gray"},{"x":0.74,"y":0.827,"s":"gray"},{"x":0.75,"y":0.825,"s":"gray"},{"x":0.76,"y":0.822,"s":"gray"},{"x":0.77,"y":0.82,"s":"gray"},{"x":0.78,"y":0.817,"s":"gray"},{"x":0.79,"y":0.815,"s":"gray"},{"x":0.8,"y":0.813,"s":"gray"},{"x":0.81,"y":0.81,"s":"gray"},{"x":0.82,"y":0.808,"s":"gray"},{"x":0.83,"y":0.805,"s":"gray"},{"x":0.84,"y":0.803,"s":"gray"},{"x":0.85,"y":0.801,"s":"gray"},{"x":0.86,"y":0.798,"s":"gray"},{"x":0.87,"y":0.796,"s":"gray"},{"x":0.88,"y":0.794,"s":"gray"},{"x":0.89,"y":0.791,"s":"gray"},{"x":0.9,"y":0.789,"s":"gray"},{"x":0.91,"y":0.786,"s":"gray"},{"x":0.92,"y":0.784,"s":"gray"},{"x":0.93,"y":0.782,"s":"gray"},{"x":0.94,"y":0.78,"s":"gray"},{"x":0.95,"y":0.778,"s":"gray"},{"x":0.96,"y":0.776,"s":"gray"},{"x":0.97,"y":0.775,"s":"gray"},{"x":0.98,"y":0.773,"s":"gray"},{"x":0.99,"y":0.772,"s":"gray"},{"x":1.0,"y":0.77,"s":"gray"},
{"x":0.087,"y":1.0,"s":"sky"},{"x":0.067,"y":0.984,"s":"sky"},{"x":0.067,"y":0.958,"s":"sky"},{"x":0.107,"y":0.896,"s":"sky"},{"x":0.107,"y":0.894,"s":"sky"},{"x":0.107,"y":0.892,"s":"sky"},{"x":0.107,"y":0.89,"s":"sky"},{"x":0.107,"y":0.888,"s":"sky"},{"x":0.107,"y":0.886,"s":"sky"},{"x":0.107,"y":0.884,"s":"sky"},{"x":0.128,"y":0.897,"s":"sky"},{"x":0.128,"y":0.893,"s":"sky"},{"x":0.128,"y":0.89,"s":"sky"},{"x":0.128,"y":0.887,"s":"sky"},{"x":0.128,"y":0.885,"s":"sky"},{"x":0.153,"y":0.881,"s":"sky"},{"x":0.361,"y":0.882,"s":"sky"},{"x":0.435,"y":0.958,"s":"sky"},{"x":0.437,"y":0.928,"s":"sky"},{"x":0.474,"y":0.959,"s":"sky"},{"x":0.474,"y":0.876,"s":"sky"},{"x":0.474,"y":0.872,"s":"sky"},{"x":0.515,"y":0.868,"s":"sky"},{"x":0.515,"y":0.861,"s":"sky"},{"x":0.557,"y":0.915,"s":"sky"},{"x":0.557,"y":0.878,"s":"sky"},{"x":0.558,"y":0.861,"s":"sky"},{"x":0.6,"y":0.916,"s":"sky"},{"x":0.598,"y":0.912,"s":"sky"},{"x":0.6,"y":0.854,"s":"sky"},{"x":0.643,"y":0.894,"s":"sky"},{"x":0.643,"y":0.861,"s":"sky"},{"x":0.643,"y":0.856,"s":"sky"},{"x":0.689,"y":0.868,"s":"sky"},{"x":0.689,"y":0.864,"s":"sky"},{"x":0.689,"y":0.861,"s":"sky"},{"x":0.689,"y":0.848,"s":"sky"},{"x":0.689,"y":0.84,"s":"sky"},{"x":0.737,"y":0.859,"s":"sky"},{"x":0.737,"y":0.841,"s":"sky"},{"x":0.737,"y":0.822,"s":"sky"},{"x":0.787,"y":0.825,"s":"sky"},{"x":0.787,"y":0.823,"s":"sky"},{"x":0.787,"y":0.799,"s":"sky"},{"x":0.839,"y":0.843,"s":"sky"},{"x":1.0,"y":0.843,"s":"sky"},{"x":1.0,"y":0.77,"s":"sky"},
{"x":0.372,"y":1.0,"s":"orange"},{"x":0.376,"y":0.993,"s":"orange"},{"x":0.295,"y":0.968,"s":"orange"},{"x":0.203,"y":0.891,"s":"orange"},{"x":0.23,"y":0.9,"s":"orange"},{"x":0.159,"y":0.983,"s":"orange"},{"x":0.261,"y":0.92,"s":"orange"},{"x":0.334,"y":0.95,"s":"orange"},{"x":0.334,"y":0.938,"s":"orange"},{"x":0.413,"y":0.937,"s":"orange"},{"x":0.452,"y":0.959,"s":"orange"},{"x":0.494,"y":0.932,"s":"orange"},{"x":0.494,"y":0.963,"s":"orange"},{"x":0.534,"y":0.941,"s":"orange"},{"x":0.575,"y":0.933,"s":"orange"},{"x":0.617,"y":0.931,"s":"orange"},{"x":0.66,"y":0.922,"s":"orange"},{"x":0.661,"y":0.908,"s":"orange"},{"x":0.708,"y":0.912,"s":"orange"},{"x":0.761,"y":0.913,"s":"orange"},{"x":0.757,"y":0.944,"s":"orange"},{"x":0.81,"y":0.902,"s":"orange"},{"x":0.93,"y":0.973,"s":"orange"},{"x":0.87,"y":0.93,"s":"orange"},{"x":0.865,"y":0.934,"s":"orange"},{"x":0.93,"y":0.92,"s":"orange"},{"x":0.93,"y":0.951,"s":"orange"},{"x":1.0,"y":0.88,"s":"orange"},
{"x":0.005,"y":0.949,"s":"yellow"},{"x":0.144,"y":0.943,"s":"yellow"},{"x":0.16,"y":0.925,"s":"yellow"},{"x":0.161,"y":0.881,"s":"yellow"},{"x":0.068,"y":0.854,"s":"yellow"},{"x":0.077,"y":0.842,"s":"yellow"},{"x":0.086,"y":0.853,"s":"yellow"},{"x":0.098,"y":0.848,"s":"yellow"},{"x":0.102,"y":0.846,"s":"yellow"},{"x":0.162,"y":0.856,"s":"yellow"},{"x":0.181,"y":0.836,"s":"yellow"},{"x":0.181,"y":0.826,"s":"yellow"},{"x":0.202,"y":0.829,"s":"yellow"},{"x":0.223,"y":0.837,"s":"yellow"},{"x":0.226,"y":0.839,"s":"yellow"},{"x":0.245,"y":0.838,"s":"yellow"},{"x":0.252,"y":0.84,"s":"yellow"},{"x":0.275,"y":0.84,"s":"yellow"},{"x":0.278,"y":0.842,"s":"yellow"},{"x":0.307,"y":0.856,"s":"yellow"},{"x":0.307,"y":0.847,"s":"yellow"},{"x":0.333,"y":0.847,"s":"yellow"},{"x":0.339,"y":0.848,"s":"yellow"},{"x":0.518,"y":0.855,"s":"yellow"},{"x":0.518,"y":0.849,"s":"yellow"},{"x":0.518,"y":0.846,"s":"yellow"},{"x":0.56,"y":0.847,"s":"yellow"},{"x":0.607,"y":0.864,"s":"yellow"},{"x":0.607,"y":0.847,"s":"yellow"},{"x":0.609,"y":0.995,"s":"yellow"},{"x":0.659,"y":0.996,"s":"yellow"},{"x":0.71,"y":0.995,"s":"yellow"},{"x":0.817,"y":1.0,"s":"yellow"},{"x":0.608,"y":0.973,"s":"yellow"},{"x":0.659,"y":0.97,"s":"yellow"},
{"x":0.71,"y":0.983,"s":"yellow"},{"x":0.71,"y":0.978,"s":"yellow"},{"x":0.71,"y":0.975,"s":"yellow"},{"x":0.71,"y":0.971,"s":"yellow"},{"x":0.71,"y":0.968,"s":"yellow"},{"x":0.71,"y":0.965,"s":"yellow"},{"x":0.608,"y":0.957,"s":"yellow"},{"x":0.608,"y":0.951,"s":"yellow"},{"x":0.608,"y":0.946,"s":"yellow"},{"x":0.608,"y":0.94,"s":"yellow"},{"x":0.608,"y":0.934,"s":"yellow"},{"x":0.608,"y":0.928,"s":"yellow"},{"x":0.608,"y":0.923,"s":"yellow"},{"x":0.608,"y":0.916,"s":"yellow"},{"x":0.608,"y":0.912,"s":"yellow"},{"x":0.608,"y":0.91,"s":"yellow"},{"x":0.659,"y":0.951,"s":"yellow"},{"x":0.659,"y":0.946,"s":"yellow"},{"x":0.659,"y":0.941,"s":"yellow"},{"x":0.659,"y":0.937,"s":"yellow"},
{"x":0.817,"y":0.983,"s":"yellow"},{"x":0.817,"y":0.979,"s":"yellow"},{"x":0.815,"y":0.975,"s":"yellow"},{"x":0.819,"y":0.971,"s":"yellow"},{"x":0.817,"y":0.967,"s":"yellow"},{"x":0.815,"y":0.963,"s":"yellow"},{"x":0.819,"y":0.959,"s":"yellow"},{"x":0.817,"y":0.955,"s":"yellow"},{"x":0.815,"y":0.951,"s":"yellow"},{"x":0.819,"y":0.947,"s":"yellow"},{"x":0.817,"y":0.943,"s":"yellow"},{"x":0.817,"y":0.939,"s":"yellow"},{"x":0.82,"y":0.917,"s":"yellow"},
{"x":0.875,"y":0.948,"s":"yellow"},{"x":0.874,"y":0.944,"s":"yellow"},{"x":0.876,"y":0.938,"s":"yellow"},{"x":0.875,"y":0.931,"s":"yellow"},{"x":0.877,"y":0.925,"s":"yellow"},{"x":0.875,"y":0.978,"s":"yellow"},
{"x":0.935,"y":0.992,"s":"yellow"},{"x":0.937,"y":0.988,"s":"yellow"},{"x":0.935,"y":0.984,"s":"yellow"},{"x":0.937,"y":0.98,"s":"yellow"},{"x":0.935,"y":0.976,"s":"yellow"},{"x":0.937,"y":0.96,"s":"yellow"},{"x":0.935,"y":0.955,"s":"yellow"},{"x":0.937,"y":0.95,"s":"yellow"},{"x":0.935,"y":0.945,"s":"yellow"},{"x":0.937,"y":0.94,"s":"yellow"},{"x":0.936,"y":0.935,"s":"yellow"},{"x":0.937,"y":0.93,"s":"yellow"},{"x":0.935,"y":0.925,"s":"yellow"},{"x":0.937,"y":0.92,"s":"yellow"},{"x":0.937,"y":0.897,"s":"yellow"},
{"x":1.0,"y":0.976,"s":"yellow"},{"x":0.999,"y":0.965,"s":"yellow"},{"x":0.997,"y":0.958,"s":"yellow"},{"x":0.998,"y":0.952,"s":"yellow"},{"x":1.0,"y":0.949,"s":"yellow"},{"x":0.998,"y":0.946,"s":"yellow"},{"x":1.0,"y":0.943,"s":"yellow"},{"x":0.998,"y":0.94,"s":"yellow"},{"x":1.0,"y":0.937,"s":"yellow"},{"x":0.998,"y":0.934,"s":"yellow"},{"x":1.0,"y":0.931,"s":"yellow"},{"x":0.998,"y":0.928,"s":"yellow"},{"x":1.0,"y":0.925,"s":"yellow"},{"x":0.998,"y":0.922,"s":"yellow"},{"x":1.0,"y":0.919,"s":"yellow"},{"x":0.998,"y":0.916,"s":"yellow"},{"x":1.0,"y":0.913,"s":"yellow"},{"x":0.998,"y":0.91,"s":"yellow"},
{"x":0.101,"y":0.99,"s":"magenta"},{"x":0.118,"y":0.998,"s":"magenta"},{"x":0.138,"y":1.0,"s":"magenta"},{"x":0.16,"y":0.988,"s":"magenta"},{"x":0.182,"y":0.961,"s":"magenta"},{"x":0.203,"y":0.967,"s":"magenta"},{"x":0.206,"y":0.972,"s":"magenta"},{"x":0.231,"y":0.979,"s":"magenta"},{"x":0.257,"y":0.985,"s":"magenta"},{"x":0.286,"y":0.99,"s":"magenta"},{"x":0.321,"y":0.99,"s":"magenta"},{"x":0.321,"y":0.987,"s":"magenta"},{"x":0.363,"y":0.99,"s":"magenta"},{"x":0.363,"y":0.987,"s":"magenta"},{"x":0.414,"y":0.984,"s":"magenta"},{"x":0.414,"y":0.977,"s":"magenta"},{"x":0.474,"y":0.977,"s":"magenta"},{"x":0.474,"y":0.971,"s":"magenta"},{"x":0.541,"y":0.966,"s":"magenta"},{"x":0.542,"y":0.956,"s":"magenta"},{"x":0.617,"y":0.95,"s":"magenta"},{"x":0.617,"y":0.939,"s":"magenta"},{"x":0.701,"y":0.933,"s":"magenta"},{"x":0.701,"y":0.922,"s":"magenta"},{"x":0.796,"y":0.926,"s":"magenta"},{"x":0.791,"y":0.917,"s":"magenta"},{"x":0.791,"y":0.911,"s":"magenta"},{"x":0.794,"y":0.904,"s":"magenta"},{"x":0.794,"y":0.9,"s":"magenta"},{"x":0.895,"y":0.978,"s":"magenta"},{"x":1.0,"y":0.97,"s":"magenta"}
],
"fText":[{"t":"(f)","x":-0.017,"y":0.945,"c":"#00b0f0"},{"t":"o LES","x":0.507,"y":0.612,"c":"#000000"},{"t":"x SCM","x":0.507,"y":0.5126,"c":"#000000"},{"t":"(f)","x":1.104,"y":0.966,"c":"#00b0f0"},{"t":"Cloud","x":1.247,"y":0.966,"c":"#000000"},{"t":"deepening","x":1.104,"y":0.8675,"c":"#000000"},{"t":"rapidly","x":1.104,"y":0.769,"c":"#000000"},{"t":"increases","x":1.104,"y":0.67,"c":"#000000"},{"t":"↓ LW flux","x":1.104,"y":0.571,"c":"#000000"},{"t":"at surface","x":1.104,"y":0.472,"c":"#000000"}],
"gText":[{"t":"(g)","x":-0.0104,"y":0.7477,"c":"#00b0f0"},{"t":"o LES","x":0.246,"y":0.788,"c":"#000000"},{"t":"x SCM","x":0.246,"y":0.7397,"c":"#000000"},{"t":"(g)","x":1.1166,"y":0.9869,"c":"#00b0f0"},{"t":"Range","x":1.291,"y":0.9869,"c":"#000000"},{"t":"of","x":1.1166,"y":0.939,"c":"#000000"},{"t":"responses","x":1.1166,"y":0.8912,"c":"#000000"},{"t":"in ↑ LW","x":1.1166,"y":0.8429,"c":"#000000"},{"t":"flux at","x":1.1166,"y":0.795,"c":"#000000"},{"t":"TOA to","x":1.1166,"y":0.7467,"c":"#000000"},{"t":"cloud","x":1.1166,"y":0.6989,"c":"#000000"},{"t":"deepening","x":1.1166,"y":0.651,"c":"#000000"}],
"fTitle":[{"t":"Sfc. ↓ LW Flux","x":-0.1945,"y":0.694},{"t":"Max. Sfc. ↓ LW Flux","x":-0.15,"y":0.694}],
"gTitle":[{"t":"TOA ↑ LW Flux","x":-0.214,"y":0.8513},{"t":"Max. TOA ↑ LW Flux","x":-0.17,"y":0.8513}],
"gXTitle":[{"t":"Cloud − Top Height","x":0.458,"y":0.689},{"t":"Max. Cloud − Top Height","x":0.459,"y":0.67}]
},
"vconcat":[
{"width":837,"height":625,
"encoding":{"x":{"field":"x","type":"quantitative","scale":{"domain":[-0.0444,1.0483],"nice":false,"zero":false},"axis":{"values":[0,0.2,0.4,0.6,0.8,1],"format":".1f","labelPadding":8}},"y":{"field":"y","type":"quantitative","scale":{"domain":[0.4236,1.028],"nice":false,"zero":false},"axis":{"values":[0.5,0.6,0.7,0.8,0.9,1],"format":".1f","labelPadding":10}}},
"layer":[
{"data":{"name":"fLES"},"mark":{"type":"point","shape":"circle","filled":true,"size":170,"stroke":"#000000","strokeWidth":2.4,"opacity":1},"encoding":{"fill":{"field":"s","type":"nominal","legend":null,"scale":{"domain":["orange","navy","blue","red","green","sky","light","yellow","gray","magenta"],"range":["#ffa500","#00008b","#0000ff","#ff0000","#006400","#56b4e9","#90ee90","#ffff00","#808080","#ff00ff"]}}}},
{"data":{"name":"fSCM"},"mark":{"type":"point","shape":"M-1,-1L1,1M-1,1L1,-1","filled":false,"size":200,"strokeWidth":3.6,"opacity":1},"encoding":{"stroke":{"field":"s","type":"nominal","legend":null,"scale":{"domain":["orange","navy","blue","red","green","sky","light","yellow","gray","magenta"],"range":["#ffa500","#00008b","#0000ff","#ff0000","#006400","#56b4e9","#90ee90","#ffff00","#808080","#ff00ff"]}}}},
{"data":{"name":"fText"},"mark":{"type":"text","font":"Liberation Sans","fontWeight":"bold","fontSize":85,"align":"left","baseline":"alphabetic"},"encoding":{"text":{"field":"t"},"color":{"field":"c","type":"nominal","scale":null}}},
{"data":{"name":"fTitle"},"mark":{"type":"text","font":"DejaVu Sans","fontStyle":"italic","fontSize":30,"angle":270,"align":"center","baseline":"middle","color":"#222222"},"encoding":{"text":{"field":"t"}}},
{"data":{"values":[{"t":"[-]","x":-0.175,"y":0.88}]},"mark":{"type":"text","font":"DejaVu Sans","fontSize":39,"angle":270,"align":"center","baseline":"middle","color":"#222222"},"encoding":{"text":{"field":"t"}}},
{"data":{"values":[{"x":-0.171,"y":0.839,"y2":0.549}]},"mark":{"type":"rule","color":"#222222","strokeWidth":2},"encoding":{"y2":{"field":"y2"}}}
]},
{"width":837,"height":625,
"encoding":{"x":{"field":"x","type":"quantitative","scale":{"domain":[-0.0444,1.0483],"nice":false,"zero":false},"axis":{"values":[0,0.2,0.4,0.6,0.8,1],"format":".1f","labelPadding":8}},"y":{"field":"y","type":"quantitative","scale":{"domain":[0.7205,1.0136],"nice":false,"zero":false},"axis":{"values":[0.75,0.8,0.85,0.9,0.95,1],"format":".2f","labelPadding":10}}},
"layer":[
{"data":{"name":"gLES"},"mark":{"type":"point","shape":"circle","filled":true,"size":170,"stroke":"#000000","strokeWidth":2.4,"opacity":1},"encoding":{"fill":{"field":"s","type":"nominal","legend":null,"scale":{"domain":["orange","navy","blue","red","green","sky","light","yellow","gray","magenta"],"range":["#ffa500","#00008b","#0000ff","#ff0000","#006400","#56b4e9","#90ee90","#ffff00","#808080","#ff00ff"]}}}},
{"data":{"name":"gSCM"},"mark":{"type":"point","shape":"M-1,-1L1,1M-1,1L1,-1","filled":false,"size":200,"strokeWidth":3.6,"opacity":1},"encoding":{"stroke":{"field":"s","type":"nominal","legend":null,"scale":{"domain":["orange","navy","blue","red","green","sky","light","yellow","gray","magenta"],"range":["#ffa500","#00008b","#0000ff","#ff0000","#006400","#56b4e9","#90ee90","#ffff00","#808080","#ff00ff"]}}}},
{"data":{"name":"gText"},"mark":{"type":"text","font":"Liberation Sans","fontWeight":"bold","fontSize":85,"align":"left","baseline":"alphabetic"},"encoding":{"text":{"field":"t"},"color":{"field":"c","type":"nominal","scale":null}}},
{"data":{"name":"gTitle"},"mark":{"type":"text","font":"DejaVu Sans","fontStyle":"italic","fontSize":30,"angle":270,"align":"center","baseline":"middle","color":"#222222"},"encoding":{"text":{"field":"t"}}},
{"data":{"values":[{"t":"[-]","x":-0.198,"y":0.9414}]},"mark":{"type":"text","font":"DejaVu Sans","fontSize":39,"angle":270,"align":"center","baseline":"middle","color":"#222222"},"encoding":{"text":{"field":"t"}}},
{"data":{"values":[{"x":-0.192,"y":0.9226,"y2":0.781}]},"mark":{"type":"rule","color":"#222222","strokeWidth":2},"encoding":{"y2":{"field":"y2"}}},
{"data":{"name":"gXTitle"},"mark":{"type":"text","font":"DejaVu Sans","fontStyle":"italic","fontSize":30,"align":"center","baseline":"middle","color":"#222222"},"encoding":{"text":{"field":"t"}}},
{"data":{"values":[{"t":"[-]","x":0.756,"y":0.679}]},"mark":{"type":"text","font":"DejaVu Sans","fontSize":39,"align":"center","baseline":"middle","color":"#222222"},"encoding":{"text":{"field":"t"}}},
{"data":{"values":[{"x":0.219,"x2":0.705,"y":0.6787}]},"mark":{"type":"rule","color":"#222222","strokeWidth":2},"encoding":{"x2":{"field":"x2"}}}
]}
]}
